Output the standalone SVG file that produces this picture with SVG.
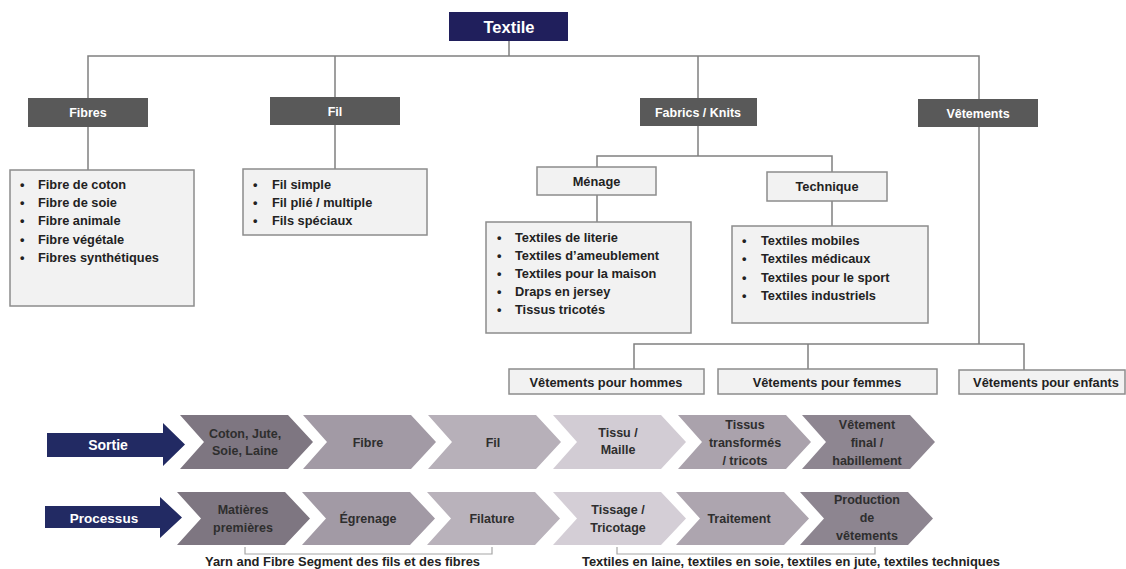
<svg xmlns="http://www.w3.org/2000/svg" width="1126" height="569" viewBox="0 0 1126 569">
<style>
.t{font-family:"Liberation Sans",Arial,sans-serif;font-weight:bold}
.w{fill:#ffffff;text-anchor:middle}
.d{fill:#222222}
.c{fill:#2e2e2e;text-anchor:middle;font-size:12.5px}
.hdr{fill:#595959}
.box{fill:#f2f2f2;stroke:#8c8c8c;stroke-width:1.5}
.ln{fill:none;stroke:#808080;stroke-width:1.5}
.br{fill:none;stroke:#a6a6a6;stroke-width:1.2}
.navy{fill:#222a63}
.li{font-size:12.8px}
</style>
<rect width="1126" height="569" fill="#ffffff"/>
<g id="connectors">
<path class="ln" d="M509,41 V56 M88,98 V56 H979 V99 M335,56 V97 M698,56 V98"/>
<path class="ln" d="M88,127 V170 M335,125 V169"/>
<path class="ln" d="M698,126 V156 M597,167 V156 H832 V172 M597,195 V222 M832,201 V226"/>
<path class="ln" d="M979,127 V344 M634,369 V344 H1024 V370 M808,344 V369"/>
<path class="br" d="M245,547 V554 H492 V547"/>
<path class="br" d="M617,547 V554 H875 V547"/>
</g>
<g id="textile">
<rect x="449" y="12" width="119" height="29" fill="#201f5c"/>
<text class="t w" x="509" y="33" font-size="16.5">Textile</text>
</g>
<g id="fibres">
<rect class="hdr" x="28" y="98" width="120" height="29"/>
<text class="t w" x="88" y="117" font-size="12.5">Fibres</text>
</g>
<g id="fil">
<rect class="hdr" x="270" y="97" width="130" height="28"/>
<text class="t w" x="335" y="116" font-size="12.5">Fil</text>
</g>
<g id="fabrics">
<rect class="hdr" x="640" y="98" width="117" height="28"/>
<text class="t w" x="698" y="117" font-size="12.5">Fabrics / Knits</text>
</g>
<g id="vetements">
<rect class="hdr" x="918" y="99" width="120" height="28"/>
<text class="t w" x="978" y="118" font-size="12.5">Vêtements</text>
</g>
<g id="fibres-list">
<rect class="box" x="10" y="170" width="184" height="136"/>
<text class="t d li"><tspan x="20" y="189">•</tspan><tspan x="38" y="189">Fibre de coton</tspan><tspan x="20" y="207">•</tspan><tspan x="38" y="207">Fibre de soie</tspan><tspan x="20" y="225">•</tspan><tspan x="38" y="225">Fibre animale</tspan><tspan x="20" y="244">•</tspan><tspan x="38" y="244">Fibre végétale</tspan><tspan x="20" y="262">•</tspan><tspan x="38" y="262">Fibres synthétiques</tspan></text>
</g>
<g id="fil-list">
<rect class="box" x="243" y="169" width="184" height="66"/>
<text class="t d li"><tspan x="253" y="189">•</tspan><tspan x="272" y="189">Fil simple</tspan><tspan x="253" y="207">•</tspan><tspan x="272" y="207">Fil plié / multiple</tspan><tspan x="253" y="225">•</tspan><tspan x="272" y="225">Fils spéciaux</tspan></text>
</g>
<g id="menage">
<rect class="box" x="537" y="167" width="119" height="28"/>
<text class="t d" x="596.5" y="186" font-size="12.8" text-anchor="middle">Ménage</text>
</g>
<g id="technique">
<rect class="box" x="767" y="172" width="120" height="29"/>
<text class="t d" x="827" y="191" font-size="12.8" text-anchor="middle">Technique</text>
</g>
<g id="menage-list">
<rect class="box" x="486" y="222" width="205" height="111"/>
<text class="t d li"><tspan x="497" y="242">•</tspan><tspan x="515" y="242">Textiles de literie</tspan><tspan x="497" y="260">•</tspan><tspan x="515" y="260">Textiles d’ameublement</tspan><tspan x="497" y="278">•</tspan><tspan x="515" y="278">Textiles pour la maison</tspan><tspan x="497" y="296">•</tspan><tspan x="515" y="296">Draps en jersey</tspan><tspan x="497" y="314">•</tspan><tspan x="515" y="314">Tissus tricotés</tspan></text>
</g>
<g id="technique-list">
<rect class="box" x="732" y="226" width="196" height="97"/>
<text class="t d li"><tspan x="742" y="245">•</tspan><tspan x="761" y="245">Textiles mobiles</tspan><tspan x="742" y="263">•</tspan><tspan x="761" y="263">Textiles médicaux</tspan><tspan x="742" y="282">•</tspan><tspan x="761" y="282">Textiles pour le sport</tspan><tspan x="742" y="300">•</tspan><tspan x="761" y="300">Textiles industriels</tspan></text>
</g>
<g id="hommes">
<rect class="box" x="509" y="369" width="195" height="25"/>
<text class="t d" x="606" y="386.5" font-size="12.8" text-anchor="middle">Vêtements pour hommes</text>
</g>
<g id="femmes">
<rect class="box" x="718" y="369" width="219" height="25"/>
<text class="t d" x="827" y="386.5" font-size="12.8" text-anchor="middle">Vêtements pour femmes</text>
</g>
<g id="enfants">
<rect class="box" x="959" y="370" width="166" height="24"/>
<text class="t d" x="1046" y="386.5" font-size="12.8" text-anchor="middle">Vêtements pour enfants</text>
</g>
<g id="sortie">
<polygon class="navy" points="47,433 163,433 163,423 185,444.5 163,466 163,457 47,457"/>
<text class="t w" x="108" y="450" font-size="14">Sortie</text>
</g>
<g id="processus">
<polygon class="navy" points="45,506 160,506 160,497 182,517.5 160,538 160,528 45,528"/>
<text class="t w" x="104" y="522.5" font-size="13.5">Processus</text>
</g>
<g id="s1"><polygon points="180,415 288,415 313,442 288,469 180,469 204,442" fill="#7e7681"/>
<text class="t c"><tspan x="245" y="438">Coton, Jute,</tspan><tspan x="245" y="455">Soie, Laine</tspan></text></g>
<g id="s2"><polygon points="303,415 411,415 436,442 411,469 303,469 327,442" fill="#a29aa5"/>
<text class="t c" x="368" y="446.5">Fibre</text></g>
<g id="s3"><polygon points="428,415 536,415 561,442 536,469 428,469 452,442" fill="#b7b0b9"/>
<text class="t c" x="493" y="446.5">Fil</text></g>
<g id="s4"><polygon points="553,415 661,415 686,442 661,469 553,469 577,442" fill="#d2ccd4"/>
<text class="t c"><tspan x="618" y="437">Tissu /</tspan><tspan x="618" y="454">Maille</tspan></text></g>
<g id="s5"><polygon points="678,415 786,415 811,442 786,469 678,469 702,442" fill="#aaa2ac"/>
<text class="t c"><tspan x="745" y="429">Tissus</tspan><tspan x="745" y="447">transformés</tspan><tspan x="745" y="465">/ tricots</tspan></text></g>
<g id="s6"><polygon points="802,415 910,415 935,442 910,469 802,469 826,442" fill="#8e8691"/>
<text class="t c"><tspan x="867" y="429">Vêtement</tspan><tspan x="867" y="447">final /</tspan><tspan x="867" y="465">habillement</tspan></text></g>
<g id="p1"><polygon points="177,492 285,492 310,518.5 285,545 177,545 201,518.5" fill="#7e7681"/>
<text class="t c"><tspan x="243" y="514">Matières</tspan><tspan x="243" y="532">premières</tspan></text></g>
<g id="p2"><polygon points="302,492 410,492 435,518.5 410,545 302,545 326,518.5" fill="#a29aa5"/>
<text class="t c" x="368" y="523">Égrenage</text></g>
<g id="p3"><polygon points="427,492 535,492 560,518.5 535,545 427,545 451,518.5" fill="#b9b2bb"/>
<text class="t c" x="492" y="523">Filature</text></g>
<g id="p4"><polygon points="553,492 661,492 686,518.5 661,545 553,545 577,518.5" fill="#d4ced6"/>
<text class="t c"><tspan x="618" y="514">Tissage /</tspan><tspan x="618" y="532">Tricotage</tspan></text></g>
<g id="p5"><polygon points="676,492 784,492 809,518.5 784,545 676,545 700,518.5" fill="#ada5af"/>
<text class="t c" x="739" y="523">Traitement</text></g>
<g id="p6"><polygon points="800,492 908,492 933,518.5 908,545 800,545 824,518.5" fill="#8d8590"/>
<text class="t c"><tspan x="867" y="504">Production</tspan><tspan x="867" y="522">de</tspan><tspan x="867" y="540">vêtements</tspan></text></g>
<g id="captions">
<text class="t d" x="205" y="566" font-size="12.5" textLength="275" lengthAdjust="spacingAndGlyphs">Yarn and Fibre Segment des fils et des fibres</text>
<text class="t d" x="582" y="566" font-size="12.5" textLength="418" lengthAdjust="spacingAndGlyphs">Textiles en laine, textiles en soie, textiles en jute, textiles techniques</text>
</g>
</svg>
